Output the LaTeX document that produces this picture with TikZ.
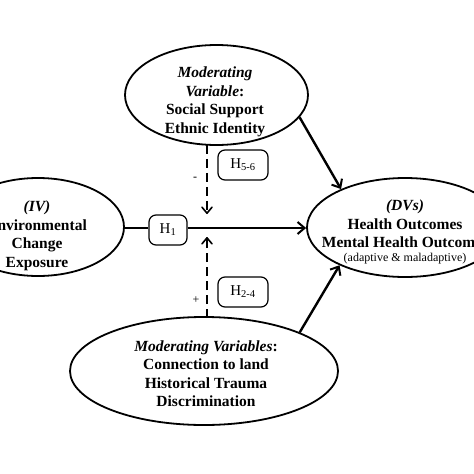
\documentclass[tikz,border=0pt]{standalone}
\usepackage{fontspec}
\setmainfont{Liberation Serif}
\usetikzlibrary{shapes.geometric,arrows.meta}
\tikzset{
  oval/.style={ellipse, draw, line width=1.8pt, inner sep=0pt},
  lbl/.style={align=center, font=\fontsize{15.5}{18.5}\selectfont\bfseries, inner sep=0pt},
  hbox/.style={draw, rounded corners=7pt, line width=1.2pt, minimum height=30pt, inner sep=0pt, font=\fontsize{15}{16}\selectfont},
  solidarr/.style={line width=2.4pt, -{Straight Barb[length=7pt,width=12pt,line width=2pt]}},
  dasharr/.style={line width=1.8pt, dash pattern=on 9pt off 5pt, -{Straight Barb[length=6pt,width=10pt,line width=1.6pt,round]}},
  sign/.style={font=\fontsize{12}{12}\selectfont, inner sep=0pt}
}
\begin{document}
\begin{tikzpicture}[x=1pt,y=-1pt]
\useasboundingbox (0,0) rectangle (474,474);
\clip (0,0) rectangle (474,474);
% ellipses
\node[oval, minimum width=183pt, minimum height=100pt] (top) at (216.5,95) {};
\node[oval, minimum width=172pt, minimum height=98pt] (left) at (38,227) {};
\node[oval, minimum width=196pt, minimum height=99pt] (right) at (405,227.5) {};
\node[oval, minimum width=268pt, minimum height=108pt] (bot) at (204,371) {};
% texts
\node[lbl] (toptext) at (215,102) {\textit{Moderating}\\\textit{Variable}:\\Social Support\\Ethnic Identity};
\node[lbl] (lefttext) at (37,236) {\textit{(IV)}\\Environmental\\Change\\Exposure};
\node[lbl] (righttext) at (405,224) {\textit{(DVs)}\\Health Outcomes\\Mental Health Outcomes};
\node[font=\fontsize{12}{12}\selectfont, inner sep=0pt] (adapt) at (405,259) {(adaptive \& maladaptive)};
\node[lbl] (bottext) at (206,373.5) {\textit{Moderating Variables}:\\Connection to land\\Historical Trauma\\Discrimination};
% hypothesis boxes
\node[hbox, minimum width=38pt] (h1) at (168,230) {H\textsubscript{1}};
\node[hbox, minimum width=50pt] (h56) at (243,165) {H\textsubscript{5-6}};
\node[hbox, minimum width=50pt] (h24) at (243,292) {H\textsubscript{2-4}};
% signs
\node[sign] (minus) at (195,179) {-};
\node[sign] (plus) at (196,300) {+};
% main path
\draw[line width=2.4pt] (left.east |- 0,228) -- (h1.west |- 0,228);
\draw[solidarr] (h1.east |- 0,228) -- (right.west |- 0,228);
% diagonal arrows
\draw[solidarr] (top.-15) -- (right.149);
\draw[solidarr] (bot.22) -- (right.210);
% dashed moderators
\coordinate (dtop) at (207,214);
\coordinate (dbot) at (207,237);
\draw[dasharr] (top.south -| dtop) ++(0,-1) -- (dtop);
\draw[dasharr] (207,318) -- (dbot);
\end{tikzpicture}
\end{document}
